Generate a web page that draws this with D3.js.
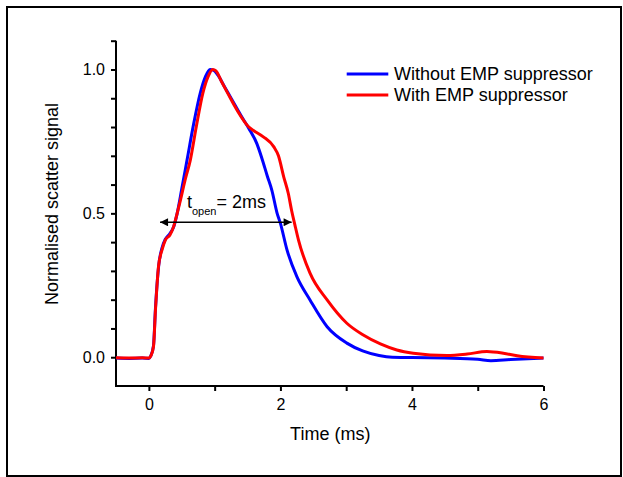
<!DOCTYPE html>
<html>
<head>
<meta charset="utf-8">
<script src="https://cdn.jsdelivr.net/npm/d3@7"></script>
<style>
  html, body { margin: 0; padding: 0; background: #fff; }
  svg { display: block; }
  text { font-family: "Liberation Sans", Arial, Helvetica, sans-serif; fill: #000; }
</style>
</head>
<body>
<svg id="chart" width="623" height="477"></svg>
<script>
// ---- Data ----
const seriesNames = ["Without EMP suppressor", "With EMP suppressor"];
const seriesColors = ["#0000ff", "#ff0000"];

const timeWithout = [-0.5, -0.3, -0.1, 0.0, 0.03, 0.07, 0.1, 0.15, 0.2, 0.25, 0.32, 0.38, 0.43, 0.5, 0.58, 0.68, 0.78, 0.86, 0.93, 0.98, 1.05, 1.15, 1.25, 1.4, 1.52, 1.64, 1.72, 1.8, 1.87, 1.95, 2.0, 2.1, 2.25, 2.45, 2.71, 3.01, 3.25, 3.5, 3.7, 4.0, 4.5, 5.0, 5.2, 5.5, 6.0];
const signalWithout = [-0.003, -0.004, -0.003, -0.004, 0.005, 0.04, 0.17, 0.32, 0.38, 0.41, 0.43, 0.455, 0.5, 0.585, 0.685, 0.81, 0.917, 0.975, 1.0, 0.998, 0.98, 0.94, 0.9, 0.84, 0.795, 0.743, 0.69, 0.63, 0.58, 0.5, 0.465, 0.373, 0.28, 0.199, 0.106, 0.049, 0.022, 0.006, 0.0, -0.001, -0.003, -0.007, -0.012, -0.008, -0.003];

const timeWith = [-0.5, -0.3, -0.1, 0.0, 0.03, 0.07, 0.1, 0.146, 0.2, 0.25, 0.32, 0.375, 0.43, 0.48, 0.55, 0.63, 0.72, 0.82, 0.9, 0.97, 1.02, 1.1, 1.2, 1.35, 1.52, 1.59, 1.74, 1.9, 1.97, 2.05, 2.12, 2.17, 2.22, 2.275, 2.45, 2.71, 3.01, 3.26, 3.52, 3.77, 4.02, 4.53, 4.84, 5.14, 5.39, 5.6, 6.0];
const signalWith = [-0.002, -0.003, -0.002, -0.003, 0.005, 0.037, 0.164, 0.315, 0.373, 0.407, 0.425, 0.453, 0.5, 0.546, 0.615, 0.685, 0.8, 0.917, 0.975, 1.0, 0.995, 0.96, 0.917, 0.855, 0.8, 0.788, 0.766, 0.731, 0.7, 0.627, 0.569, 0.51, 0.46, 0.407, 0.292, 0.199, 0.118, 0.077, 0.046, 0.025, 0.014, 0.006, 0.011, 0.02, 0.014, 0.005, -0.003];

const xTicks = [0, 1, 2, 3, 4, 5, 6];
const xTickLabels = ["0", "", "2", "", "4", "", "6"];
const yTicks = [0.0, 0.1, 0.2, 0.3, 0.4, 0.5, 0.6, 0.7, 0.8, 0.9, 1.0, 1.1];
const yTickLabels = ["0.0", "", "", "", "", "0.5", "", "", "", "", "1.0", ""];

const xDomain = [-0.5, 6];
const yDomain = [-0.1, 1.1];

const annotArrow = [0.17, 2.17];   // time span of the t_open arrow
const annotArrowY = 0.469;
const annotLabelPos = [0.578, 0.517];

const xTitle = "Time (ms)";
const yTitle = "Normalised scatter signal";

// ---- Drawing ----
const svg = d3.select("#chart");

// outer frame
svg.append("rect")
  .attr("x", 7).attr("y", 7).attr("width", 614).attr("height", 469)
  .attr("fill", "none").attr("stroke", "#000").attr("stroke-width", 2);

const x = d3.scaleLinear().domain(xDomain).range([116, 543.5]);
const y = d3.scaleLinear().domain(yDomain).range([386, 40.7]);

// X axis
const xAxis = svg.append("g")
  .attr("transform", `translate(0,${y(yDomain[0])})`)
  .call(d3.axisBottom(x).tickValues(xTicks).tickSize(5).tickSizeOuter(0).tickPadding(8)
        .tickFormat((d, i) => xTickLabels[i]));
xAxis.select(".domain").attr("stroke-width", 2).attr("d", `M${x(xDomain[0]) - 1},0H${x(xDomain[1])}`);
xAxis.selectAll(".tick line").attr("stroke-width", 2);
xAxis.selectAll(".tick text").attr("font-size", 16).attr("font-family", "Liberation Sans, Arial, sans-serif");

// Y axis
const yAxis = svg.append("g")
  .attr("transform", `translate(${x(xDomain[0])},0)`)
  .call(d3.axisLeft(y).tickValues(yTicks).tickSize(5).tickSizeOuter(0).tickPadding(6)
        .tickFormat((d, i) => yTickLabels[i]));
yAxis.select(".domain").attr("stroke-width", 2).attr("d", `M0,${y(yDomain[0]) + 1}V${y(yDomain[1])}`);
yAxis.selectAll(".tick line").attr("stroke-width", 2);
yAxis.selectAll(".tick text").attr("font-size", 16).attr("font-family", "Liberation Sans, Arial, sans-serif");

// Axis titles
svg.append("text")
  .attr("x", (x(xDomain[0]) + x(xDomain[1])) / 2 + 0.5)
  .attr("y", 439.5)
  .attr("text-anchor", "middle")
  .attr("font-size", 18)
  .text(xTitle);

svg.append("text")
  .attr("transform", `translate(58,204) rotate(-90)`)
  .attr("text-anchor", "middle")
  .attr("font-size", 18)
  .text(yTitle);

// Lines
const series = [
  { t: timeWithout, v: signalWithout },
  { t: timeWith, v: signalWith }
];
const line = d3.line()
  .x(d => x(d[0]))
  .y(d => y(d[1]))
  .curve(d3.curveMonotoneX);

series.forEach((s, i) => {
  const pts = s.t.map((t, j) => [t, s.v[j]]);
  svg.append("path")
    .datum(pts)
    .attr("fill", "none")
    .attr("stroke", seriesColors[i])
    .attr("stroke-width", 3)
    .attr("stroke-linejoin", "round")
    .attr("d", line);
});

// Arrow annotation
const defs = svg.append("defs");
defs.append("marker")
  .attr("id", "ah")
  .attr("viewBox", "0 0 10 10")
  .attr("refX", 10).attr("refY", 5)
  .attr("markerUnits", "userSpaceOnUse")
  .attr("markerWidth", 10).attr("markerHeight", 8)
  .attr("orient", "auto-start-reverse")
  .append("path").attr("d", "M0,0L10,5L0,10Z").attr("fill", "#000");

svg.append("line")
  .attr("x1", x(annotArrow[0])).attr("x2", x(annotArrow[1]))
  .attr("y1", y(annotArrowY)).attr("y2", y(annotArrowY))
  .attr("stroke", "#000").attr("stroke-width", 1.3)
  .attr("marker-start", "url(#ah)").attr("marker-end", "url(#ah)");

const lab = svg.append("text")
  .attr("x", x(annotLabelPos[0]))
  .attr("y", y(annotLabelPos[1]))
  .attr("font-size", 18);
lab.append("tspan").text("t");
lab.append("tspan").attr("font-size", 11).attr("dy", 6.5).text("open");
lab.append("tspan").attr("dy", -6.5).text("= 2ms");

// Legend
const legendY = [74, 95];
seriesNames.forEach((name, i) => {
  svg.append("line")
    .attr("x1", 346.7).attr("x2", 388.3)
    .attr("y1", legendY[i]).attr("y2", legendY[i])
    .attr("stroke", seriesColors[i]).attr("stroke-width", 3);
  svg.append("text")
    .attr("x", 394).attr("y", legendY[i] + 5.7)
    .attr("font-size", 18)
    .text(name);
});
</script>
</body>
</html>
